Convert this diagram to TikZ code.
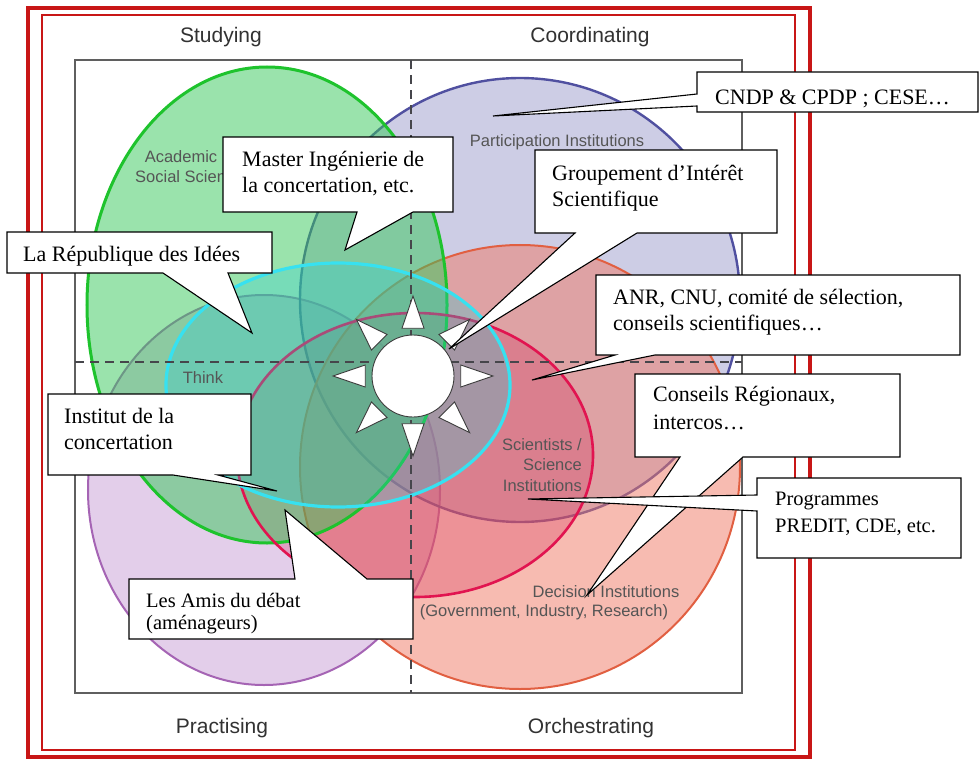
\documentclass[tikz,border=0pt]{standalone}
\usepackage{fontspec}
\setmainfont{Liberation Serif}
\newfontfamily\labsans{Liberation Sans}
\usetikzlibrary{calc}
\pgfdeclarelayer{back}
\pgfdeclarelayer{bubbles}
\pgfsetlayers{back,bubbles,main}
\definecolor{framered}{RGB}{200,22,22}
\definecolor{boxgray}{RGB}{95,95,95}
\definecolor{dashgray}{RGB}{70,70,75}
\definecolor{headgray}{RGB}{50,50,50}
\definecolor{labgray}{RGB}{85,85,85}
\definecolor{greenline}{RGB}{30,195,45}
\definecolor{greenfill}{RGB}{55,200,90}
\definecolor{blueline}{RGB}{80,80,160}
\definecolor{bluefill}{RGB}{130,130,190}
\definecolor{orangeline}{RGB}{225,95,65}
\definecolor{orangefill}{RGB}{240,120,100}
\definecolor{purpleline}{RGB}{165,100,180}
\definecolor{purplefill}{RGB}{190,140,205}
\definecolor{crimsonline}{RGB}{225,20,80}
\definecolor{crimsonfill}{RGB}{210,30,80}
\definecolor{cyanline}{RGB}{55,225,240}
\definecolor{cyanfill}{RGB}{40,205,215}
\definecolor{sungray}{RGB}{60,60,60}
\begin{document}
\begin{tikzpicture}[x=1bp, y=-1bp,
  header/.style={font=\labsans\fontsize{21bp}{25bp}\selectfont, text=headgray, inner sep=0pt},
  inlab/.style={font=\labsans\fontsize{16.5bp}{20.5bp}\selectfont, text=labgray, inner sep=0pt},
  cbox/.style={inner sep=0pt, outer sep=0pt},
  ctext/.style={font=\fontsize{22bp}{26bp}\selectfont, align=left, anchor=north west, inner sep=0pt},
  callout/.style={fill=white, draw=black, line width=1.1bp, line join=miter},
  ray/.style={fill=white, draw=sungray, line width=0.9bp},
  sunc/.style={circle, fill=white, draw=sungray, line width=0.9bp, minimum size=82bp, inner sep=0pt},
  dashline/.style={draw=dashgray, line width=1.6bp, dash pattern=on 9bp off 6bp},
]
\useasboundingbox (0,0) rectangle (980,759);
\begin{pgfonlayer}{back}
\fill[white] (0,0) rectangle (980,759);
% frames
\draw[framered, line width=3.2bp] (28,8) rectangle (810,757);
\draw[framered, line width=1.6bp] (42,15) rectangle (795,750);
\draw[boxgray, line width=1.5bp] (75,60) rectangle (742,693);
% ellipses
\fill[purplefill, fill opacity=.42] (264,490) ellipse [x radius=176bp, y radius=195bp];
\draw[purpleline, line width=2bp] (264,490) ellipse [x radius=176bp, y radius=195bp];
\fill[bluefill, fill opacity=.4] (520,300) ellipse [x radius=220bp, y radius=222bp];
\draw[blueline, line width=2.4bp] (520,300) ellipse [x radius=220bp, y radius=222bp];
\fill[orangefill, fill opacity=.5] (520,467) ellipse [x radius=220bp, y radius=222bp];
\draw[orangeline, line width=2bp] (520,467) ellipse [x radius=220bp, y radius=222bp];
\fill[crimsonfill, fill opacity=.26] (415,455) ellipse [x radius=178bp, y radius=142bp];
\fill[greenfill, fill opacity=.5] (267,305) ellipse [x radius=180bp, y radius=238bp];
\draw[greenline, line width=3bp] (267,305) ellipse [x radius=180bp, y radius=238bp];
\draw[crimsonline, line width=2.6bp] (415,455) ellipse [x radius=178bp, y radius=142bp];
\fill[cyanfill, fill opacity=.3] (338,385) ellipse [x radius=172bp, y radius=122bp];
\draw[cyanline, line width=3.2bp] (338,385) ellipse [x radius=172bp, y radius=122bp];
% quadrant dividers
\coordinate (vtop) at (411,60);
\coordinate (vbot) at (411,693);
\coordinate (hleft) at (75,362);
\coordinate (hright) at (742,362);
\draw[dashline] (vtop) -- (vbot);
\draw[dashline] (hleft) -- (hright);
% headers
\node[header] (studying) at (221,37) {Studying};
\node[header] (coordinating) at (590,37) {Coordinating};
\node[header] (practising) at (222,728) {Practising};
\node[header] (orchestrating) at (591,728) {Orchestrating};
% inner labels
\node[inlab] (acad) at (181,157) {Academic};
\node[inlab, anchor=west] (socsci) at (135,177) {Social Sciences};
\node[inlab] (partinst) at (557,142) {Participation Institutions};
\node[inlab] (think) at (203,378) {Think};
\node[inlab, align=right, anchor=east] (sci) at (582,465) {Scientists /\\Science\\Institutions};
\node[inlab] (decis) at (606,592) {Decision Institutions};
\node[inlab] (decisb) at (544,612) {(Government, Industry, Research)};
% sun
\node[sunc] (sun) at (413,376) {};
\foreach \a in {0,45,...,315}
  \draw[ray] ($(sun.center)+(\a:80bp)$) -- ($(sun.center)+(\a+13:49bp)$) -- ($(sun.center)+(\a-13:49bp)$) -- cycle;
\end{pgfonlayer}

% callout boxes (anchors) and tips
\node[cbox, minimum width=281bp, minimum height=40bp] (cndp) at (837.5,92) {};
\coordinate (cndp-tip) at (493,116);
\node[cbox, minimum width=230bp, minimum height=75bp] (mi) at (338,174.5) {};
\coordinate (mi-tip) at (345,250);
\node[cbox, minimum width=242bp, minimum height=83bp] (gis) at (656,191.5) {};
\coordinate (gis-tip) at (449,349);
\node[cbox, minimum width=265bp, minimum height=41bp] (rdi) at (139.5,252.5) {};
\coordinate (rdi-tip) at (252,333);
\node[cbox, minimum width=364bp, minimum height=80bp] (anr) at (778,315) {};
\coordinate (anr-tip) at (532,380);
\node[cbox, minimum width=265bp, minimum height=83bp] (cr) at (767.5,415.5) {};
\coordinate (cr-tip) at (587,595);
\node[cbox, minimum width=204bp, minimum height=80bp] (prog) at (859,518) {};
\coordinate (prog-tip) at (528,499);
\node[cbox, minimum width=203bp, minimum height=81bp] (inst) at (149.5,434.5) {};
\coordinate (inst-tip) at (277,491);
\node[cbox, minimum width=284bp, minimum height=60bp] (amis) at (271,609) {};
\coordinate (amis-tip) at (285,510);

\begin{pgfonlayer}{bubbles}
\draw[callout] (cndp.north west) -- (cndp.north east) -- (cndp.south east) -- (cndp.south west)
  -- ($(cndp.south west)+(0,-6)$) -- (cndp-tip) -- ($(cndp.south west)+(0,-18)$) -- cycle;
\draw[callout] (mi.north west) -- (mi.north east) -- (mi.south east)
  -- ($(mi.south west)+(190,0)$) -- (mi-tip) -- ($(mi.south west)+(134,0)$) -- (mi.south west) -- cycle;
\draw[callout] (gis.north west) -- (gis.north east) -- (gis.south east)
  -- ($(gis.south west)+(102,0)$) -- (gis-tip) -- ($(gis.south west)+(40,0)$) -- (gis.south west) -- cycle;
\draw[callout] (rdi.north west) -- (rdi.north east) -- (rdi.south east)
  -- ($(rdi.south west)+(221,0)$) -- (rdi-tip) -- ($(rdi.south west)+(156,0)$) -- (rdi.south west) -- cycle;
\draw[callout] (anr.north west) -- (anr.north east) -- (anr.south east)
  -- ($(anr.south west)+(59,0)$) -- (anr-tip) -- ($(anr.south west)+(19,0)$) -- (anr.south west) -- cycle;
\draw[callout] (cr.north west) -- (cr.north east) -- (cr.south east)
  -- ($(cr.south west)+(108,0)$) -- (cr-tip) -- ($(cr.south west)+(45,0)$) -- (cr.south west) -- cycle;
\draw[callout] (prog.north west) -- (prog.north east) -- (prog.south east) -- (prog.south west)
  -- ($(prog.north west)+(0,33)$) -- (prog-tip) -- ($(prog.north west)+(0,17)$) -- cycle;
\draw[callout] (inst.north west) -- (inst.north east) -- (inst.south east)
  -- ($(inst.south west)+(170,0)$) -- (inst-tip) -- ($(inst.south west)+(125,0)$) -- (inst.south west) -- cycle;
\draw[callout] (amis.north west) -- ($(amis.north west)+(166,0)$) -- (amis-tip) -- ($(amis.north west)+(238,0)$)
  -- (amis.north east) -- (amis.south east) -- (amis.south west) -- cycle;
\end{pgfonlayer}

% callout texts
\node[ctext] (cndp-t) at (715,85.8) {\strut CNDP \& CPDP ; CESE…};
\node[ctext] (mi-t) at (242,147.8) {\strut Master Ingénierie de\\\strut la concertation, etc.};
\node[ctext] (gis-t) at (552,161.8) {\strut Groupement d’Intérêt\\\strut Scientifique};
\node[ctext] (rdi-t) at (23,242.8) {\strut La République des Idées};
\node[ctext] (anr-t) at (613,285.8) {\strut ANR, CNU, comité de sélection,\\\strut conseils scientifiques…};
\node[ctext, font=\fontsize{22bp}{28bp}\selectfont] (cr-t) at (653,381.4) {\strut Conseils Régionaux,\\\strut intercos…};
\node[ctext, font=\fontsize{20.5bp}{27bp}\selectfont] (prog-t) at (775,486.1) {\strut Programmes\\\strut PREDIT, CDE, etc.};
\node[ctext] (inst-t) at (64,404.8) {\strut Institut de la\\\strut concertation};
\node[ctext, font=\fontsize{20.5bp}{22bp}\selectfont] (amis-t) at (146,591.6) {\strut Les Amis du débat\\\strut (aménageurs)};
\end{tikzpicture}
\end{document}
